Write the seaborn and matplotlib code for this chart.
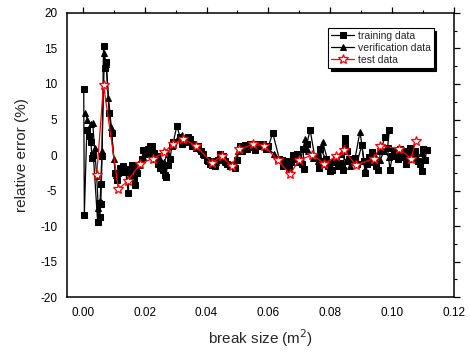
import matplotlib
matplotlib.use("Agg")
import matplotlib.pyplot as plt
import seaborn as sns
from matplotlib.ticker import MultipleLocator

sns.set_style("white")
plt.rcParams['font.family'] = ['Liberation Sans', 'DejaVu Sans']

train_x = [0.0003, 0.0005, 0.0013, 0.0020, 0.0026, 0.0030, 0.0034, 0.0048, 0.0052, 0.0055,
           0.0058, 0.0060, 0.0062, 0.0067, 0.0072, 0.0076, 0.0085, 0.0093, 0.0105, 0.0110,
           0.0115, 0.0121, 0.0125, 0.0130, 0.0138, 0.0147, 0.0150, 0.0158, 0.0164, 0.0169,
           0.0174, 0.0182, 0.0191, 0.0196, 0.0201, 0.0212, 0.0218, 0.0225, 0.0230, 0.0234,
           0.0239, 0.0242, 0.0248, 0.0253, 0.0260, 0.0266, 0.0268, 0.0274, 0.0282, 0.0288,
           0.0293, 0.0304, 0.0314, 0.0320, 0.0331, 0.0340, 0.0347, 0.0352, 0.0357, 0.0365,
           0.0374, 0.0382, 0.0390, 0.0400, 0.0406, 0.0411, 0.0417, 0.0422, 0.0428, 0.0438,
           0.0444, 0.0454, 0.0460, 0.0465, 0.0476, 0.0487, 0.0493, 0.0498, 0.0508, 0.0515,
           0.0525, 0.0532, 0.0540, 0.0548, 0.0557, 0.0565, 0.0573, 0.0582, 0.0591, 0.0600,
           0.0614, 0.0635, 0.0643, 0.0648, 0.0654, 0.0660, 0.0665, 0.0672, 0.0680, 0.0686,
           0.0692, 0.0700, 0.0708, 0.0716, 0.0712, 0.0724, 0.0735, 0.0750, 0.0756, 0.0762,
           0.0766, 0.0773, 0.0768, 0.0786, 0.0793, 0.0800, 0.0805, 0.0812, 0.0818, 0.0825,
           0.0831, 0.0837, 0.0842, 0.0848, 0.0848, 0.0855, 0.0862, 0.0870, 0.0880, 0.0885,
           0.0902, 0.0908, 0.0913, 0.0920, 0.0925, 0.0930, 0.0936, 0.0941, 0.0948, 0.0955,
           0.0962, 0.0977, 0.0991, 0.0985, 0.0993, 0.1000, 0.1006, 0.1012, 0.1018, 0.1025,
           0.1030, 0.1038, 0.1045, 0.1050, 0.1058, 0.1065, 0.1070, 0.1075, 0.1082, 0.1090,
           0.1096, 0.1100, 0.1106, 0.1112]
train_y = [9.3, -8.4, 3.5, 2.7, 1.8, -0.4, 0.0, -9.4, -6.8, -8.7,
           -6.9, -4.1, -0.2, 15.4, 12.3, 13.1, 5.9, 3.1, -2.6, -3.5,
           -2.6, -1.9, -2.1, -1.5, -2.0, -5.4, -2.3, -1.4, -3.3, -4.2,
           -2.6, -1.4, -0.5, 0.7, 0.5, 0.9, 1.2, 1.2, 0.3, -0.5,
           -0.2, -1.2, -1.9, -1.6, -2.1, -2.8, -3.1, -1.4, -0.5, 1.2,
           1.9, 4.1, 2.6, 1.5, 1.9, 2.6, 2.3, 1.2, 1.6, 1.0,
           1.2, 0.5, 0.2, -0.7, -0.9, -1.2, -1.4, -0.8, -1.6, -0.7,
           0.2, -0.2, -0.8, -1.2, -1.6, -1.4, -1.9, -0.7, 1.2, 0.5,
           1.4, 0.9, 1.6, 1.1, 0.7, 1.5, 1.2, 1.6, 0.8, 1.2,
           3.1, -0.5, -0.7, -1.5, -1.2, -0.8, -1.9, -1.0, 0.0, -0.6,
           0.2, -1.0, -1.2, -2.0, 0.8, 1.6, 3.5, -0.3, -0.2, -1.8,
           -0.8, -1.2, 0.9, -0.6, -1.5, -2.2, -2.1, -1.0, -0.4, -1.6,
           -1.1, -1.4, -2.1, 1.6, 2.4, 0.6, -0.6, -1.0, -0.4, -1.3,
           1.4, -0.8, -2.6, -1.2, -0.3, -0.5, 0.4, -1.0, -1.5, -2.1,
           0.5, 2.6, 3.5, 1.0, -2.1, -0.2, 0.6, 0.2, -0.5, 0.9,
           -0.3, 0.5, -1.2, 0.0, 1.0, 0.3, -0.3, 0.5, -0.8, -1.3,
           -2.3, 0.8, -0.7, 0.7]

verif_x = [0.0007, 0.0015, 0.0025, 0.0032, 0.0038, 0.0045, 0.0050, 0.0056, 0.0062, 0.0070,
           0.0075, 0.0083, 0.0092, 0.0100, 0.0108, 0.0118, 0.0125, 0.0132, 0.0140, 0.0150,
           0.0160, 0.0172, 0.0185, 0.0195, 0.0208, 0.0222, 0.0235, 0.0250, 0.0262, 0.0275,
           0.0290, 0.0308, 0.0322, 0.0338, 0.0350, 0.0362, 0.0378, 0.0392, 0.0405, 0.0418,
           0.0432, 0.0446, 0.0460, 0.0475, 0.0490, 0.0502, 0.0518, 0.0535, 0.0550, 0.0568,
           0.0585, 0.0600, 0.0618, 0.0632, 0.0648, 0.0662, 0.0676, 0.0690, 0.0705, 0.0719,
           0.0728, 0.0745, 0.0760, 0.0775, 0.0790, 0.0805, 0.0820, 0.0835, 0.0850, 0.0865,
           0.0880, 0.0896, 0.0913, 0.0930, 0.0945, 0.0960, 0.0975, 0.0990, 0.1005, 0.1020,
           0.1035, 0.1050, 0.1065, 0.1080, 0.1095, 0.1110]
verif_y = [5.9, 5.0, 4.4, 4.5, 1.0, -3.0, -7.5, -6.5, 0.5, 14.3,
           12.8, 8.0, 4.0, -0.5, -2.8, -2.0, -2.4, -1.8, -2.4, -3.0,
           -1.8, -1.5, -0.8, -0.3, 0.2, 0.3, 0.4, -0.6, -1.0, 0.2,
           1.5, 2.4, 2.8, 2.2, 2.0, 1.6, 0.8, 0.0, -0.7, -1.2,
           -1.0, -0.3, -1.0, -1.4, -1.2, 0.5, 1.0, 1.5, 1.3, 1.4,
           1.5, 0.8, 0.2, -0.5, -1.0, -1.6, -0.3, -0.1, -0.5, 2.3,
           0.5, -0.4, -0.8, 1.9, -0.5, -1.0, -0.3, 0.2, -0.8, -1.6,
           -0.5, 3.3, -2.0, -0.8, -0.2, -0.7, 0.5, -0.3, 0.3, 0.5,
           0.0, -0.6, 0.2, -0.4, 0.3, 0.8]

test_x = [0.0045, 0.0067, 0.0115, 0.0147, 0.0185, 0.0228, 0.0264, 0.0291, 0.0325, 0.0366,
          0.0417, 0.0449, 0.0482, 0.0505, 0.0549, 0.0586, 0.0630, 0.0670, 0.0699, 0.0742,
          0.0781, 0.0819, 0.0845, 0.0882, 0.0942, 0.0961, 0.1023, 0.1061, 0.1077]
test_y = [-2.8, 9.9, -4.8, -3.6, -1.2, -0.5, 0.4, 1.6, 2.25, 1.3,
          -1.1, -0.15, -1.6, 0.8, 1.5, 1.3, -0.7, -2.7, -0.7, 0.0,
          -1.2, -0.2, 0.7, -1.4, -0.5, 1.3, 0.9, -0.5, 2.0]

fig = plt.figure(figsize=(4.7, 3.56), dpi=100)
ax = fig.add_axes([0.1426, 0.1657, 0.8234, 0.7978])

sns.lineplot(x=train_x, y=train_y, ax=ax, sort=False, estimator=None, color='black',
             marker='s', markersize=3.8, markeredgecolor='black', linewidth=0.9,
             label='training data')
sns.lineplot(x=verif_x, y=verif_y, ax=ax, sort=False, estimator=None, color='black',
             marker='^', markersize=4.3, markeredgecolor='black', linewidth=0.9,
             label='verification data')
sns.lineplot(x=test_x, y=test_y, ax=ax, sort=False, estimator=None, color='red',
             marker='*', markersize=7, markerfacecolor='white', markeredgecolor='red',
             markeredgewidth=0.9, linewidth=0.9, label='test data')

ax.set_xlim(-0.0051, 0.12)
ax.set_ylim(-20, 20)
ax.xaxis.set_minor_locator(MultipleLocator(0.01))
ax.yaxis.set_minor_locator(MultipleLocator(2.5))
ax.set_xticks([0.0, 0.02, 0.04, 0.06, 0.08, 0.10, 0.12])
ax.set_xticklabels(['0.00', '0.02', '0.04', '0.06', '0.08', '0.10', '0.12'])
ax.set_yticks([-20, -15, -10, -5, 0, 5, 10, 15, 20])
ax.set_yticklabels(['-20', '-15', '-10', '-5', '0', '5', '10', '15', '20'])

for s in ax.spines.values():
    s.set_visible(True)
    s.set_color('black')
    s.set_linewidth(1.1)

ax.tick_params(which='both', direction='out', top=True, right=True,
               labeltop=False, labelright=False, colors='black', labelsize=8.5)
ax.tick_params(which='major', length=4, width=0.9, pad=3)
ax.tick_params(which='minor', length=2.5, width=0.8)

ax.set_xlabel('break size (m$^2$)', fontsize=11, labelpad=6)
ax.set_ylabel('relative error (%)', fontsize=11, labelpad=8)

leg = ax.legend(loc='upper right', bbox_to_anchor=(0.947, 0.948), borderaxespad=0,
                fontsize=7.5, frameon=True, fancybox=False, edgecolor='black',
                shadow={'color': 'black', 'alpha': 1}, handlelength=2.2,
                handletextpad=0.3, borderpad=0.3, labelspacing=0.2)
leg.get_frame().set_linewidth(0.8)
leg.get_frame().set_alpha(1)

fig.savefig('out.png', dpi=100)
